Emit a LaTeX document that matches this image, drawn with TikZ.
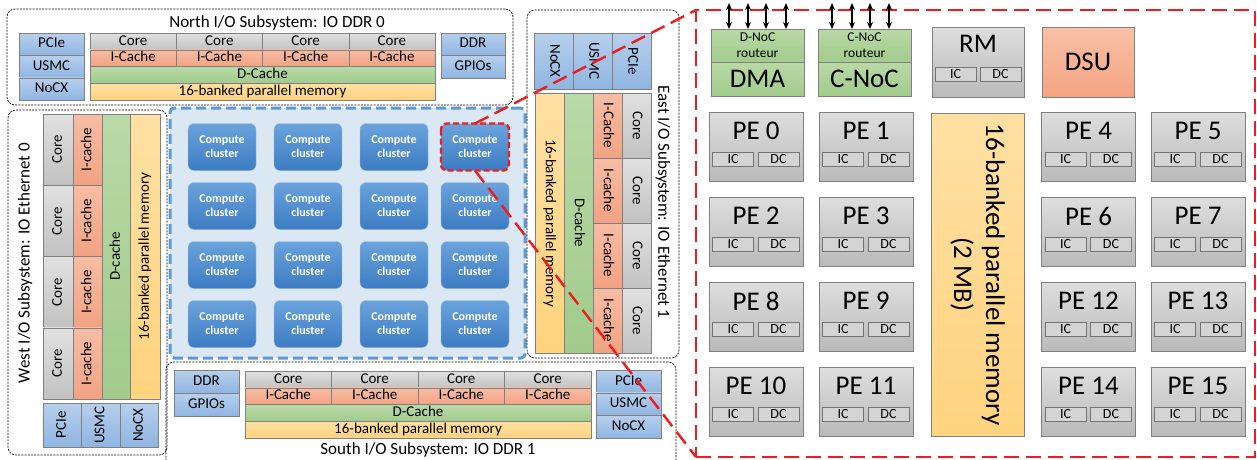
\documentclass[tikz,border=0pt]{standalone}
\usepackage{fontspec}
\setmainfont{Carlito}
\usepackage{tikz}
\usetikzlibrary{arrows.meta}

\definecolor{salmonA}{HTML}{F7BDA4}
\definecolor{salmonB}{HTML}{F2A283}
\definecolor{greenA}{HTML}{B9D9A6}
\definecolor{greenB}{HTML}{A2CB8C}
\definecolor{memA}{HTML}{FFE0A3}
\definecolor{memB}{HTML}{FFD37F}
\definecolor{ifA}{HTML}{B7CFEC}
\definecolor{ifB}{HTML}{8FB5E2}
\definecolor{clA}{HTML}{6AA3DC}
\definecolor{clB}{HTML}{3D7CC3}
\definecolor{panelblue}{HTML}{DCE7F4}
\definecolor{dashblue}{HTML}{5B9BD5}
\definecolor{dsuA}{HTML}{F8C0A7}
\definecolor{dsuB}{HTML}{F4A482}
\definecolor{zoomred}{HTML}{EE1C1C}

\begin{document}
\begin{tikzpicture}[x=1pt, y=-1pt,
		cell/.style={draw=black!50, inner sep=0pt, outer sep=0pt, text height=11pt, text depth=3.5pt, font=\fontsize{15}{15}\selectfont},
		core/.style={cell, top color=black!12, bottom color=black!24},
		icache/.style={cell, top color=salmonA, bottom color=salmonB},
		dcache/.style={cell, top color=greenA, bottom color=greenB},
		bankmem/.style={cell, top color=memA, bottom color=memB},
		iface/.style={cell, top color=ifA, bottom color=ifB},
		subsys/.style={draw, dash pattern=on 2pt off 1.2pt, line width=0.7pt, rounded corners=8pt, inner sep=0pt, outer sep=0pt},
		title/.style={font=\fontsize{17}{17}\selectfont, inner sep=0pt},
		panel/.style={fill=panelblue, draw=dashblue, line width=3pt, dash pattern=on 10pt off 5pt, rounded corners=4pt, inner sep=0pt},
		cluster/.style={rounded corners=6pt, top color=clA, bottom color=clB, draw=clA!70!white, text=white, font=\fontsize{12}{14}\selectfont\bfseries, align=center, minimum width=68, minimum height=47, inner sep=0pt, outer sep=0pt},
		pe/.style={draw=black!50, top color=black!13, bottom color=black!27, minimum width=94, minimum height=69, inner sep=0pt, outer sep=0pt},
		noc/.style={draw=black!50, top color=greenA, bottom color=greenB, minimum width=93, inner sep=0pt, outer sep=0pt},
		tag/.style={draw=black!55, fill=black!17, minimum width=41, minimum height=14, inner sep=0pt, font=\fontsize{14}{14}\selectfont},
		big/.style={font=\fontsize{27}{32}\selectfont, inner sep=0pt},
		zoomline/.style={draw=zoomred, line width=2.4pt, dash pattern=on 15pt off 7pt},
		bus/.style={{Stealth[length=7pt,width=6pt]}-{Stealth[length=7pt,width=6pt]}, line width=1.3pt}
	]
	\clip (0,0) rectangle (1257,459);

	% North I/O subsystem
	\node[subsys, minimum width=506, minimum height=96] (north) at (260,57) {};
	\node[title] (ntitle) at (277,23) {North I/O Subsystem: IO DDR 0};
	\foreach \t [count=\i] in {PCIe,USMC,NoCX} {
		\node[iface, minimum width=65, minimum height=22.4] (nif\i) at (51.5,{21.8+22.4*\i}) {\t};
	}
	\foreach \i in {1,...,4} {
		\node[core, minimum width=86.25, minimum height=16.75] (ncore\i) at ({90+86.25*(\i-0.5)},41.4) {Core};
		\node[icache, minimum width=86.25, minimum height=16.75] (nic\i) at ({90+86.25*(\i-0.5)},58.1) {I-Cache};
	}
	\node[dcache, minimum width=345, minimum height=16.75] (ndc) at (262.5,74.9) {D-Cache};
	\node[bankmem, minimum width=345, minimum height=16.75] (nmem) at (262.5,91.6) {16-banked parallel memory};
	\node[iface, minimum width=64, minimum height=22.4] (nddr) at (473,44.2) {DDR};
	\node[iface, minimum width=64, minimum height=22.4] (ngpio) at (473,66.6) {GPIOs};

	% West I/O subsystem
	\node[subsys, minimum width=159, minimum height=345] (west) at (87.5,282.5) {};
	\node[title, rotate=90] (wtitle) at (25,263) {West I/O Subsystem: IO Ethernet 0};
	\foreach \i in {1,...,4} {
		\node[core, rotate=90, minimum width=71.25, minimum height=30] (wcore\i) at (58,{114+71.25*(\i-0.5)}) {Core};
		\node[icache, rotate=90, minimum width=71.25, minimum height=29] (wic\i) at (87.5,{114+71.25*(\i-0.5)}) {I-cache};
	}
	\node[dcache, rotate=90, minimum width=285, minimum height=28] (wdc) at (116,256.5) {D-cache};
	\node[bankmem, rotate=90, minimum width=285, minimum height=30] (wmem) at (145,256.5) {16-banked parallel memory};
	\foreach \t/\x [count=\i] in {PCIe/62,USMC/100.5,NoCX/139} {
		\node[iface, rotate=90, minimum width=44, minimum height=38.5] (wif\i) at (\x,425) {\t};
	}

	% Compute clusters
	\node[panel, minimum width=355, minimum height=250] (grid) at (347.5,233) {};
	\foreach \c/\x in {1/222,2/308,3/394,4/475} {
		\foreach \r/\y in {1/147,2/206,3/265,4/324} {
			\node[cluster] (cl\r\c) at (\x,\y) {Compute\\cluster};
		}
	}

	% East I/O subsystem
	\node[subsys, minimum width=152, minimum height=348] (east) at (603,184) {};
	\node[title, rotate=-90] (etitle) at (663,202) {East I/O Subsystem: IO Ethernet 1};
	\foreach \t/\x [count=\i] in {NoCX/554,USMC/593,PCIe/632} {
		\node[iface, rotate=-90, minimum width=56, minimum height=39] (eif\i) at (\x,61) {\t};
	}
	\foreach \t [count=\i] in {I-Cache,I-cache,I-cache,I-cache} {
		\node[core, rotate=-90, minimum width=65, minimum height=29] (ecore\i) at (636.5,{93+65*(\i-0.5)}) {Core};
		\node[icache, rotate=-90, minimum width=65, minimum height=29] (eic\i) at (607.5,{93+65*(\i-0.5)}) {\t};
	}
	\node[dcache, rotate=-90, minimum width=260, minimum height=29] (edc) at (578.5,223) {D-cache};
	\node[bankmem, rotate=-90, minimum width=260, minimum height=29] (emem) at (549.5,223) {16-banked parallel memory};

	% South I/O subsystem
	\node[subsys, minimum width=510, minimum height=110] (south) at (421,417) {};
	\node[title] (stitle) at (428,450) {South I/O Subsystem: IO DDR 1};
	\node[iface, minimum width=65, minimum height=23] (sddr) at (206.5,381.5) {DDR};
	\node[iface, minimum width=65, minimum height=23] (sgpio) at (206.5,404.5) {GPIOs};
	\foreach \i in {1,...,4} {
		\node[core, minimum width=86.5, minimum height=16.75] (score\i) at ({245+86.5*(\i-0.5)},379.4) {Core};
		\node[icache, minimum width=86.5, minimum height=16.75] (sic\i) at ({245+86.5*(\i-0.5)},396.1) {I-Cache};
	}
	\node[dcache, minimum width=346, minimum height=16.75] (sdc) at (418,412.9) {D-Cache};
	\node[bankmem, minimum width=346, minimum height=16.75] (smem) at (418,429.6) {16-banked parallel memory};
	\foreach \t [count=\i] in {PCIe,USMC,NoCX} {
		\node[iface, minimum width=65, minimum height=22.7] (sif\i) at (628.5,{358.8+22.7*\i}) {\t};
	}

	% Inside one compute cluster
	\node[draw=zoomred, line width=2.4pt, dash pattern=on 15pt off 7pt, minimum width=559, minimum height=447, inner sep=0pt, outer sep=0pt] (ccbox) at (975.5,233.5) {};
	\node[noc, minimum height=33, align=center, font=\fontsize{13.5}{16}\selectfont] (dnoc) at (757.5,45.5) {D-NoC\\routeur};
	\node[noc, minimum height=34, big] (dma) at (757.5,79) {DMA};
	\node[noc, minimum height=33, align=center, font=\fontsize{13.5}{16}\selectfont] (cnoc) at (864.5,45.5) {C-NoC\\routeur};
	\node[noc, minimum height=34, big] (cnocb) at (864.5,79) {C-NoC};
	\foreach \x [count=\i] in {729,748,766,786} {
		\coordinate (dt\i) at (\x,3);
		\draw[bus] (dt\i) -- (dt\i |- dnoc.north);
	}
	\foreach \x [count=\i] in {832,852,870,889} {
		\coordinate (ct\i) at (\x,3);
		\draw[bus] (ct\i) -- (ct\i |- cnoc.north);
	}
	\node[pe, minimum width=92, minimum height=70] (rm) at (978,62) {};
	\node[big] (rmname) at ([yshift=-17pt]rm.north) {RM};
	\node[tag] (rm-ic) at ([xshift=-22.5pt,yshift=-47pt]rm.north) {IC};
	\node[tag] (rm-dc) at ([xshift=22.5pt,yshift=-47pt]rm.north) {DC};
	\node[draw=black!50, top color=dsuA, bottom color=dsuB, minimum width=92, minimum height=70, big] (dsu) at (1088,62) {DSU};
	\node[draw=black!50, top color=memA, bottom color=memB, minimum width=323, minimum height=93, inner sep=0pt, rotate=-90, align=center, font=\fontsize{27}{32}\selectfont] (l1mem) at (977.5,274.5) {16-banked parallel memory\\(2 MB)};
	\foreach \n/\x/\y in {0/756/146.5, 1/866/146.5, 4/1088.5/146.5, 5/1198/146.5,
		2/756/231.5, 3/866/231.5, 6/1088.5/231.5, 7/1198/231.5,
		8/756/316.5, 9/866/316.5, 12/1088.5/316.5, 13/1198/316.5,
		10/756/401.5, 11/866/401.5, 14/1088.5/401.5, 15/1198/401.5} {
		\node[pe] (pe\n) at (\x,\y) {};
		\node[big] (pe\n-name) at ([yshift=-19pt]pe\n.north) {PE \n};
		\node[tag] (pe\n-ic) at ([xshift=-23pt,yshift=-47pt]pe\n.north) {IC};
		\node[tag] (pe\n-dc) at ([xshift=22.5pt,yshift=-47pt]pe\n.north) {DC};
	}

	% Zoom lines
	\draw[zoomred, line width=2.4pt, dash pattern=on 6pt off 3pt, rounded corners=6pt] (cl14.north west) rectangle (cl14.south east);
	\draw[zoomline] (cl14.north) -- (ccbox.north west);
	\draw[zoomline] (cl14.south) -- (ccbox.south west);
\end{tikzpicture}
\end{document}
